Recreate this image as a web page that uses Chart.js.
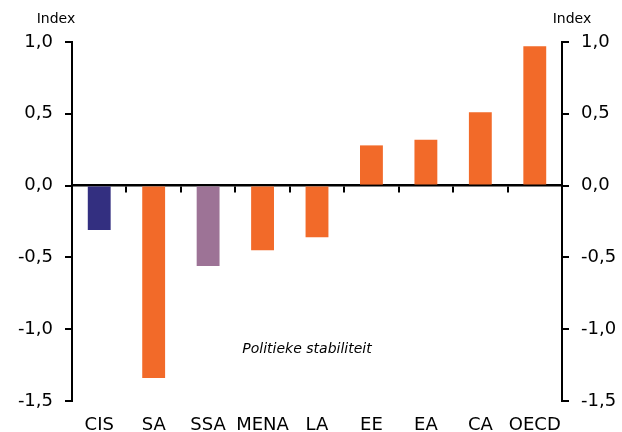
<!DOCTYPE html>
<html>
<head>
<meta charset="utf-8">
<script src="https://cdn.jsdelivr.net/npm/chart.js@4"></script>
<style>
  html, body { margin: 0; padding: 0; background: #fff; }
  #wrap { width: 622px; height: 432px; }
</style>
</head>
<body>
<div id="wrap"><canvas id="mainChart"></canvas></div>
<script>
const categories = ['CIS', 'SA', 'SSA', 'MENA', 'LA', 'EE', 'EA', 'CA', 'OECD'];
const values = [-0.31, -1.34, -0.56, -0.45, -0.36, 0.28, 0.32, 0.51, 0.97];
const barColors = ['#332F80', '#F26A29', '#9D7396', '#F26A29', '#F26A29', '#F26A29', '#F26A29', '#F26A29', '#F26A29'];
const yTicks = [-1.5, -1.0, -0.5, 0.0, 0.5, 1.0];
const axisTitle = 'Index';
const note = 'Politieke stabiliteit';

const font = 'DejaVu Sans, Verdana, sans-serif';

// "Index" over both axes and the italic note in the plot
const textPlugin = {
  id: 'texts',
  afterDraw(chart) {
    const ctx = chart.ctx;
    const area = chart.chartArea;
    ctx.save();
    ctx.fillStyle = '#000';
    ctx.font = '14px ' + font;
    ctx.textAlign = 'center';
    ctx.textBaseline = 'middle';
    ctx.fillText(axisTitle, area.left - 16, 19);
    ctx.fillText(axisTitle, area.right + 10, 19);
    ctx.font = 'italic 14px ' + font;
    ctx.fillText(note, chart.scales.x.getPixelForValue(4) - 10, chart.scales.y.getPixelForValue(-1.14));
    ctx.restore();
  }
};

const yAxis = (pos) => ({
  type: 'linear',
  position: pos,
  min: -1.5,
  max: 1.0,
  afterBuildTicks: (scale) => { scale.ticks = yTicks.map(v => ({ value: v })); },
  afterFit: (scale) => { scale.width = pos === 'left' ? 72 : 60; },
  border: { display: true, color: '#000', width: 2 },
  grid: { display: true, drawOnChartArea: false, drawTicks: true, tickLength: 7, color: '#000', lineWidth: 2 },
  ticks: {
    padding: 12,
    color: '#000',
    font: { family: font, size: 18 },
    callback: (v) => v.toFixed(1).replace('.', ',')
  }
});

const ctx = document.getElementById('mainChart').getContext('2d');
new Chart(ctx, {
  type: 'bar',
  data: {
    labels: categories,
    datasets: [{
      data: values,
      backgroundColor: barColors,
      barPercentage: 0.42,
      categoryPercentage: 1.0
    }]
  },
  options: {
    responsive: true,
    maintainAspectRatio: false,
    animation: false,
    layout: { padding: { top: 42, bottom: 0, left: 0, right: 0 } },
    plugins: { legend: { display: false }, tooltip: { enabled: false } },
    scales: {
      x: {
        position: 'bottom',
        afterFit: (scale) => { scale.height = 31; },
        border: { display: false },
        grid: { display: false, drawTicks: false },
        ticks: { padding: 14, color: '#000', font: { family: font, size: 18 }, maxRotation: 0, autoSkip: false }
      },
      // zero line with the small marks between categories
      x0: {
        type: 'category',
        position: { y: 0 },
        offset: true,
        border: { display: true, color: '#000', width: 2.5 },
        grid: { display: true, offset: true, drawOnChartArea: false, drawTicks: true, tickLength: 6, color: '#000', lineWidth: 2 },
        ticks: { display: false }
      },
      y: yAxis('left'),
      y2: yAxis('right')
    }
  },
  plugins: [textPlugin]
});
</script>
</body>
</html>
